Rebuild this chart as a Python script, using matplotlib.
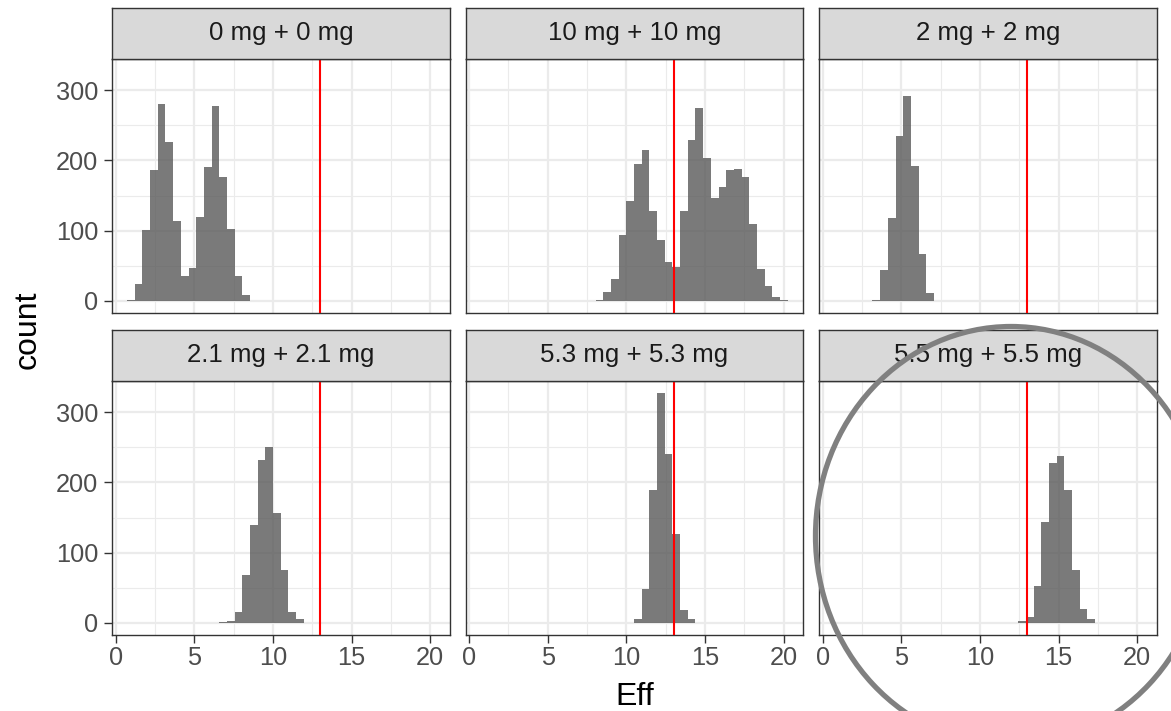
import matplotlib
matplotlib.use("Agg")
import matplotlib.pyplot as plt
from matplotlib.patches import Ellipse

plt.rcParams['font.family'] = ['Liberation Sans', 'DejaVu Sans']

# histogram bins shared by all facets
bin_start = 0.72
bin_width = 0.4885

titles = ["0 mg + 0 mg", "10 mg + 10 mg", "2 mg + 2 mg",
          "2.1 mg + 2.1 mg", "5.3 mg + 5.3 mg", "5.5 mg + 5.5 mg"]
# index of first non-empty bin in each facet
first_bin = [0, 15, 5, 12, 20, 24]
counts = [
    [2, 24, 101, 187, 280, 226, 114, 36, 47, 119, 190, 277, 176, 103, 36, 8],
    [1, 13, 31, 94, 143, 195, 215, 128, 87, 56, 49, 128, 229, 275, 204, 146,
     162, 187, 188, 177, 110, 45, 21, 5, 1],
    [2, 44, 118, 235, 292, 192, 67, 12],
    [1, 3, 15, 68, 139, 232, 251, 156, 76, 15, 5],
    [6, 49, 189, 328, 240, 126, 19, 5],
    [3, 8, 52, 144, 228, 238, 189, 76, 20, 6],
]
threshold = 13
x_ticks = [0, 5, 10, 15, 20]
y_ticks = [0, 100, 200, 300]

W, H = 1171, 711
fig = plt.figure(figsize=(W / 100, H / 100), dpi=100)


def box(l, t, r, b):
    return [l / W, 1 - b / H, (r - l) / W, (b - t) / H]


col_left = [112.3, 465.7, 819.3]
col_w = 337.2
rows = [(7.5, 59, 312.5), (329.5, 381, 634.5)]  # strip top, panel top, panel bottom

for i, title in enumerate(titles):
    r, c = divmod(i, 3)
    st, pt, pb = rows[r]
    l = col_left[c]
    ax = fig.add_axes(box(l, pt, l + col_w, pb))
    edges = [bin_start + bin_width * (first_bin[i] + k) for k in range(len(counts[i]))]
    ax.bar(edges, counts[i], width=bin_width, align='edge', color='#595959',
           alpha=0.8, linewidth=0, zorder=2)
    ax.axvline(threshold, color='red', lw=1.5, zorder=3)
    ax.set_xlim(-0.22, 21.23)
    ax.set_ylim(-16.4, 344.4)
    ax.set_xticks(x_ticks)
    ax.set_yticks(y_ticks)
    ax.set_xticks([2.5, 7.5, 12.5, 17.5], minor=True)
    ax.set_yticks([50, 150, 250], minor=True)
    ax.grid(which='major', color='#EBEBEB', lw=1.6, zorder=0)
    ax.grid(which='minor', color='#EBEBEB', lw=0.8, zorder=0)
    ax.set_axisbelow(True)
    for s in ax.spines.values():
        s.set_color('#333333')
        s.set_linewidth(1.0)
    ax.tick_params(which='minor', length=0)
    ax.tick_params(which='major', length=5.5, width=1.0, color='#333333',
                   labelsize=18.3, labelcolor='#4D4D4D')
    ax.tick_params(axis='x', pad=3)
    ax.tick_params(axis='y', pad=4.5)
    if r == 0:
        ax.tick_params(axis='x', bottom=False, labelbottom=False)
    if c != 0:
        ax.tick_params(axis='y', left=False, labelleft=False)

    sax = fig.add_axes(box(l, st, l + col_w, pt))
    sax.set_facecolor('#D9D9D9')
    sax.set_xticks([])
    sax.set_yticks([])
    for s in sax.spines.values():
        s.set_color('#333333')
        s.set_linewidth(1.0)
    sax.text(0.5, 0.5, title, transform=sax.transAxes, ha='center', va='center',
             fontsize=18.6, color='#1A1A1A')

fig.text(635 / W, 1 - 705 / H, "Eff", ha='center', va='baseline', fontsize=23)
fig.text(28 / W, 1 - 330 / H, "count", ha='center', va='center', rotation=90,
         fontsize=23)

# hand-drawn highlight around the last facet
fig.add_artist(Ellipse((1011 / W, 1 - 536 / H), 391 / W, 419 / H,
                       transform=fig.transFigure, fill=False,
                       edgecolor='#808080', lw=3.8, zorder=10))

fig.savefig("out.png", dpi=100)
